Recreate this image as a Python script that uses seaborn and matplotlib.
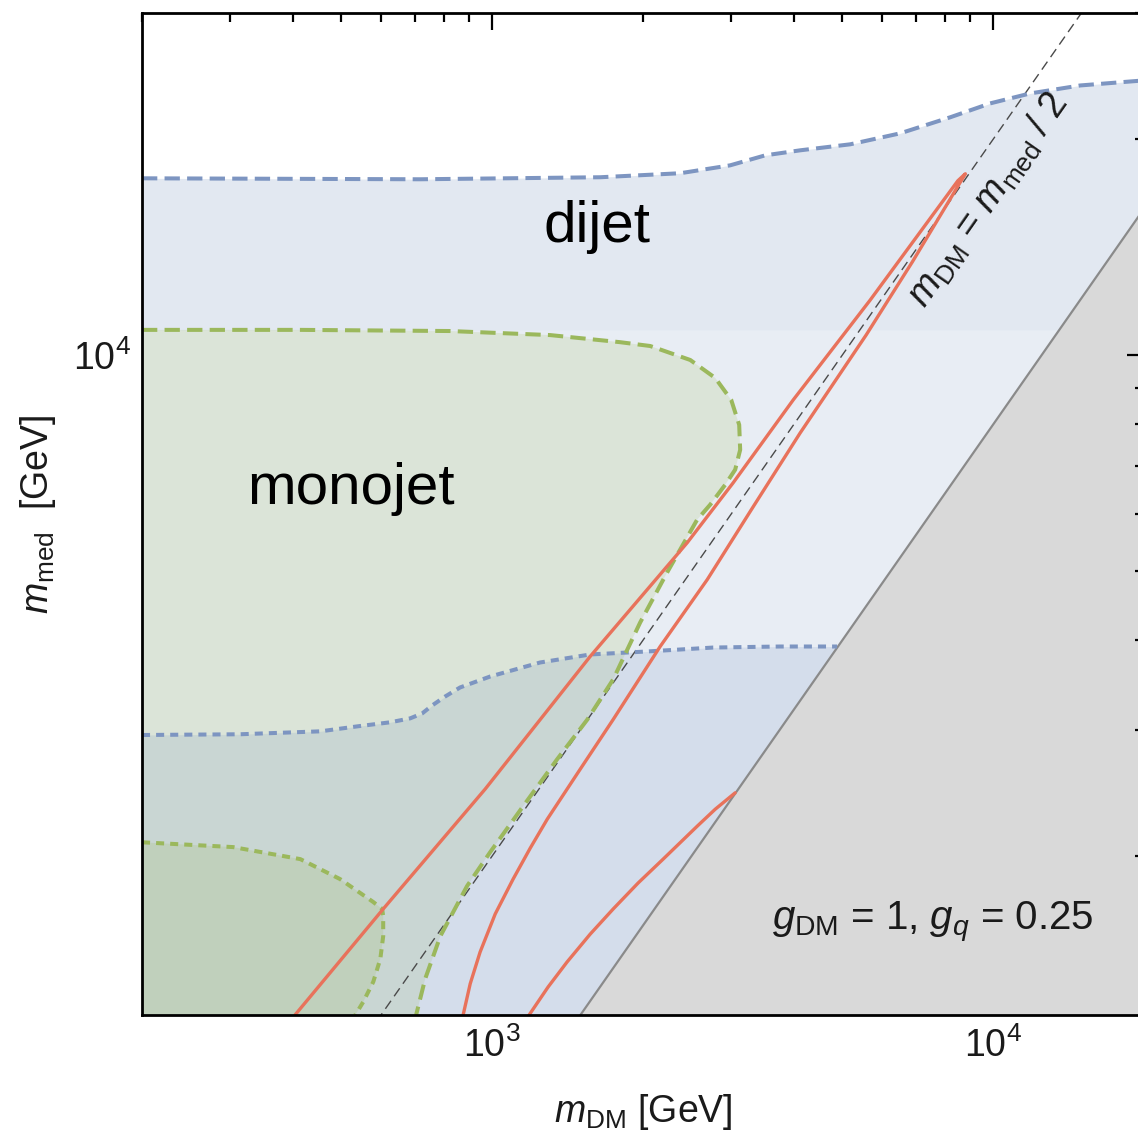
import numpy as np
import pandas as pd
import matplotlib
matplotlib.use("Agg")
import matplotlib.pyplot as plt
from matplotlib.ticker import LogLocator, NullFormatter, LogFormatterSciNotation
import seaborn as sns

# ---------------------------------------------------------------------------
# Exclusion boundaries in the (m_DM, m_med) plane, in GeV
# ---------------------------------------------------------------------------
# dijet limit, long dashes (upper dijet contour)
dijet_mdm = [200, 718, 1643, 2373, 2985, 3507, 4120, 5183, 6518, 8208, 9863, 11855, 14915, 20000]
dijet_mmed = [17640, 17585, 17700, 17930, 18390, 18990, 19300, 19675, 20380, 21460, 22440, 23170, 23770, 24160]

# dijet limit, short dashes (lower dijet contour)
dijet2_mdm = [200, 314, 454, 538, 626, 686, 725, 759, 806, 863, 991, 1247, 1569, 2038, 2761, 3757, 4880]
dijet2_mmed = [2950, 2957, 2985, 3033, 3073, 3112, 3162, 3244, 3339, 3437, 3560, 3724, 3821, 3858, 3907, 3920, 3920]

# monojet limit, long dashes
mono_mdm = [200, 414, 824, 1306, 1800, 2067, 2485, 2787, 3000, 3112, 3126, 3055, 2918, 2723, 2565,
            2234, 1974, 1744, 1549, 1348, 1153, 991, 891, 788, 735, 705]
mono_mmed = [10840, 10840, 10800, 10660, 10420, 10293, 9841, 9290, 8656, 7990, 7375, 6918, 6591, 6181, 5891,
             4971, 4234, 3527, 3101, 2729, 2347, 2025, 1816, 1546, 1348, 1200]

# monojet limit, short dashes
mono2_mdm = [200, 304, 414, 497, 579, 603, 606, 606, 598, 579, 553, 533]
mono2_mmed = [2090, 2058, 1980, 1857, 1725, 1687, 1649, 1546, 1437, 1335, 1252, 1200]

# relic density contour around the resonance m_DM = m_med / 2
relic_mdm = [404, 606, 968, 1569, 2450, 3027, 3989, 5682, 8500, 8800, 6893, 5578, 4120,
             3319, 2687, 2164, 1744, 1498, 1288, 1191, 1101, 1014, 946, 904, 875]
relic_mmed = [1200, 1687, 2479, 3797, 5470, 6633, 8656, 11930, 17500, 17900, 13477, 10664, 7788,
              6142, 4860, 3920, 3101, 2642, 2251, 2051, 1857, 1660, 1469, 1327, 1200]

# second relic density branch, ending on the excluded wedge
relic2_mdm = [1185, 1293, 1411, 1569, 1744, 1956, 2194, 2566, 2787, 3055]
relic2_mmed = [1200, 1313, 1423, 1556, 1687, 1834, 1980, 2201, 2324, 2450]

# excluded wedge boundary m_med = 0.8 m_DM and the resonance line m_med = 2 m_DM
wedge_ratio = 0.8
resonance_ratio = 2.0

xlim = (200, 20000)
ylim = (1200, 30000)

BLUE = "#5E81B5"
GREEN = "#8FB032"
BLUE_LINE = "#7d95c1"
GREEN_LINE = "#9bb85c"
RED_LINE = "#e8725b"

sns.set_theme(style="white")
plt.rcParams["font.family"] = ["Liberation Sans", "DejaVu Sans"]
plt.rcParams["mathtext.fontset"] = "custom"
plt.rcParams["mathtext.rm"] = "Liberation Sans"
plt.rcParams["mathtext.it"] = "Liberation Sans:italic"
plt.rcParams["mathtext.bf"] = "Liberation Sans:bold"
plt.rcParams["mathtext.sf"] = "Liberation Sans"

fig = plt.figure(figsize=(11.38, 11.34), dpi=100)
fig.patch.set_facecolor("white")
ax = fig.add_axes([142 / 1138, 119 / 1134, 1002 / 1138, 1002 / 1134])
ax.set_xscale("log")
ax.set_yscale("log")
ax.set_xlim(*xlim)
ax.set_ylim(*ylim)
ax.set_facecolor("white")
ax.set_axisbelow(False)

# --- shaded regions -------------------------------------------------------
ax.fill_between(dijet_mdm, ylim[0], dijet_mmed, color=BLUE, alpha=0.14, lw=0, zorder=1)
ax.fill_between(dijet_mdm, mono_mmed[0], dijet_mmed, color=BLUE, alpha=0.04, lw=0, zorder=1)
ax.fill(list(mono_mdm) + [200], list(mono_mmed) + [ylim[0]], color=GREEN, alpha=0.14, lw=0, zorder=1)
ax.fill_between(list(dijet2_mdm) + [xlim[1]], ylim[0], list(dijet2_mmed) + [dijet2_mmed[-1]],
                color=BLUE, alpha=0.14, lw=0, zorder=1)
ax.fill(list(mono2_mdm) + [200], list(mono2_mmed) + [ylim[0]], color=GREEN, alpha=0.14, lw=0, zorder=1)

wedge_x = np.geomspace(ylim[0] / wedge_ratio * 0.99, xlim[1], 60)
ax.fill_between(wedge_x, ylim[0] * 0.9, wedge_ratio * wedge_x, color="#d9d9d9", lw=0, zorder=2)


def draw_curve(x, y, color, lw, dashes=None, z=3):
    df = pd.DataFrame({"m_DM": x, "m_med": y})
    sns.lineplot(data=df, x="m_DM", y="m_med", sort=False, estimator=None,
                 color=color, linewidth=lw, ax=ax, zorder=z, legend=False)
    line = ax.lines[-1]
    line.set_solid_joinstyle("round")
    if dashes is not None:
        line.set_dashes(dashes)
        line.set_dash_capstyle("butt")
        line.set_dash_joinstyle("round")
    return line


# wedge edge and resonance line
draw_curve(wedge_x, wedge_ratio * wedge_x, "#8a8a8a", 1.6, z=3)
res_x = np.geomspace(ylim[0] / resonance_ratio * 0.98, ylim[1] / resonance_ratio * 1.02, 40)
draw_curve(res_x, resonance_ratio * res_x, "#4a4a4a", 1.0, dashes=(7, 4), z=4)

# experimental limits
draw_curve(dijet_mdm, dijet_mmed, BLUE_LINE, 2.9, dashes=(3.8, 1.8), z=5)
draw_curve(dijet2_mdm, dijet2_mmed, BLUE_LINE, 2.9, dashes=(2.0, 1.5), z=5)
draw_curve(mono_mdm, mono_mmed, GREEN_LINE, 2.9, dashes=(3.8, 1.8), z=5)
draw_curve(mono2_mdm, mono2_mmed, GREEN_LINE, 2.9, dashes=(2.0, 1.5), z=5)

# relic density contours
draw_curve(relic_mdm, relic_mmed, RED_LINE, 2.4, z=6)
draw_curve(relic2_mdm, relic2_mmed, RED_LINE, 2.4, z=6)

# --- axes styling -----------------------------------------------------------
ax.xaxis.set_major_locator(LogLocator(base=10))
ax.yaxis.set_major_locator(LogLocator(base=10))
ax.xaxis.set_minor_locator(LogLocator(base=10, subs=np.arange(2, 10)))
ax.yaxis.set_minor_locator(LogLocator(base=10, subs=np.arange(2, 10)))
ax.xaxis.set_major_formatter(LogFormatterSciNotation())
ax.yaxis.set_major_formatter(LogFormatterSciNotation())
ax.xaxis.set_minor_formatter(NullFormatter())
ax.yaxis.set_minor_formatter(NullFormatter())
ax.tick_params(which="both", direction="in", top=True, right=True,
               color="black", width=1.6, labelsize=27, labelcolor="#1a1a1a")
ax.tick_params(which="major", length=12)
ax.tick_params(which="minor", length=6.5)
ax.tick_params(axis="x", which="major", pad=9)
ax.tick_params(axis="y", which="major", pad=8)
for sp in ax.spines.values():
    sp.set_visible(True)
    sp.set_color("black")
    sp.set_linewidth(2.0)
    sp.set_zorder(10)

ax.set_xlabel(r"$m_{\mathrm{DM}}$ [GeV]", fontsize=27, color="#1a1a1a")
ax.set_ylabel(r"$m_{\mathrm{med}}$  [GeV]", fontsize=27, color="#1a1a1a")
ax.xaxis.set_label_coords(0.5, -0.077)
ax.yaxis.set_label_coords(-0.084, 0.5)

# --- annotations ------------------------------------------------------------
ax.text(0.454, 0.786, "dijet", transform=ax.transAxes, fontsize=42,
        ha="center", va="center", color="black", zorder=8)
ax.text(0.2086, 0.525, "monojet", transform=ax.transAxes, fontsize=42,
        ha="center", va="center", color="black", zorder=8)
ax.text(0.789, 0.093, r"$g_{\mathrm{DM}}$ = 1, $g_q$ = 0.25", transform=ax.transAxes,
        fontsize=29, ha="center", va="center", color="#1a1a1a", zorder=8)

p1 = ax.transData.transform((1000, resonance_ratio * 1000))
p2 = ax.transData.transform((10000, resonance_ratio * 10000))
angle = np.degrees(np.arctan2(p2[1] - p1[1], p2[0] - p1[0]))
perp = np.array([np.sin(np.radians(angle)), -np.cos(np.radians(angle))]) * 22
anchor_x = 8700
ax.annotate(r"$m_{\mathrm{DM}}$ = $m_{\mathrm{med}}$ / 2", xy=(anchor_x, resonance_ratio * anchor_x),
            xytext=(perp[0], perp[1]), textcoords="offset points", rotation=angle,
            rotation_mode="anchor", ha="center", va="center", fontsize=27,
            color="#1a1a1a", zorder=8)

fig.savefig("out.png", dpi=100, facecolor="white")
